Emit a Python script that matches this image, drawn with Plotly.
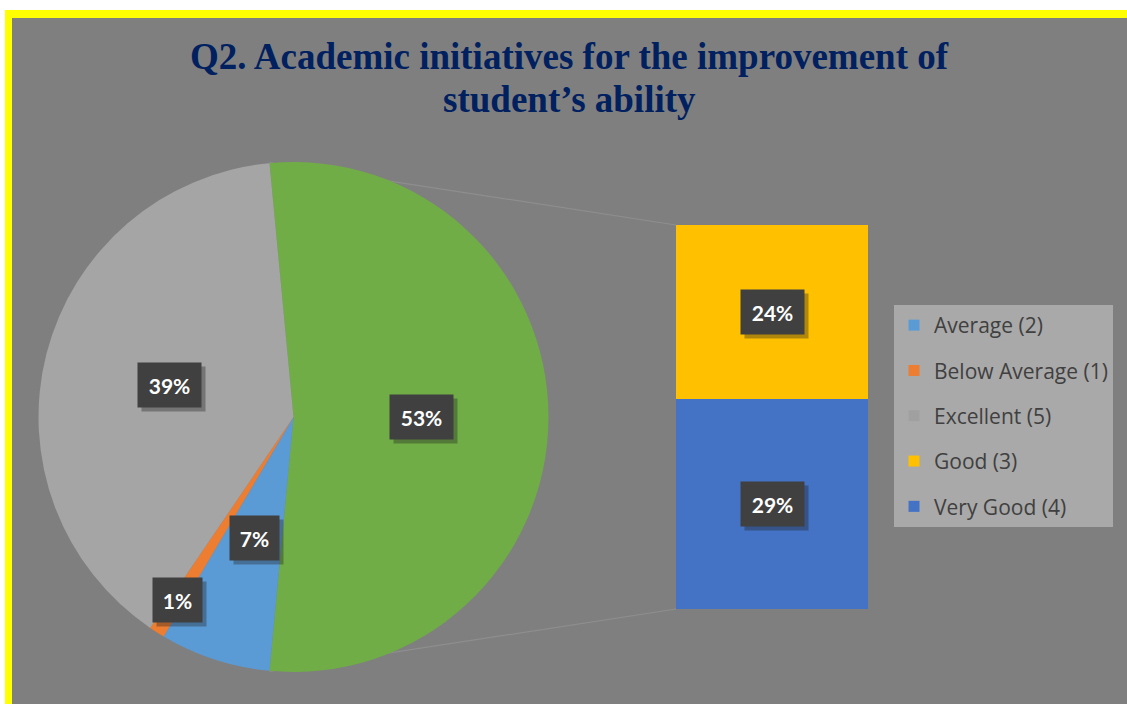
import math
import plotly.graph_objects as go

# ---------------- data ----------------
pie_labels = ["Other", "Average (2)", "Below Average (1)", "Excellent (5)"]
pie_values = [53, 7, 1, 39]
pie_colors = ["#70ad47", "#5b9bd5", "#ed7d31", "#a5a5a5"]

bar_labels = ["Very Good (4)", "Good (3)"]
bar_values = [29, 24]
bar_colors = ["#4472c4", "#ffc000"]

legend_labels = ["Average (2)", "Below Average (1)", "Excellent (5)", "Good (3)", "Very Good (4)"]
legend_colors = ["#5b9bd5", "#ed7d31", "#a0a0a0", "#ffc000", "#4472c4"]

title_lines = ["Q2. Academic initiatives for the improvement of", "student’s ability"]

# ---------------- layout helpers ----------------
W, H = 1127, 704
def px(x):
    return x / W
def py(y):
    return 1 - y / H

PIE_L, PIE_R, PIE_T, PIE_B = 38, 549, 162, 672
cx, cy = (PIE_L + PIE_R) / 2, (PIE_T + PIE_B) / 2
rad = (PIE_R - PIE_L) / 2
BAR_L, BAR_R, BAR_T, BAR_B = 676, 868, 225, 609

total = sum(pie_values)
other_share = pie_values[0] / total
rotation = 90 - other_share * 180

fig = go.Figure()

fig.add_trace(go.Pie(
    labels=pie_labels, values=pie_values,
    marker=dict(colors=pie_colors, line=dict(width=0)),
    sort=False, direction="clockwise", rotation=rotation,
    textinfo="none", hoverinfo="label+percent", showlegend=False,
    domain=dict(x=[px(PIE_L), px(PIE_R)], y=[py(PIE_B), py(PIE_T)]),
))

for lab, val, col in zip(bar_labels, bar_values, bar_colors):
    fig.add_trace(go.Bar(
        x=[0], y=[val], name=lab, marker=dict(color=col, line=dict(width=0)),
        width=1, showlegend=False, xaxis="x", yaxis="y",
    ))

for i, (lab, col) in enumerate(zip(legend_labels, legend_colors)):
    fig.add_trace(go.Scatter(
        x=[None], y=[None], mode="markers", name=lab,
        marker=dict(symbol="square", size=11, color=col),
        legendgroup=f"g{i}", showlegend=True,
    ))

# ---------------- annotations ----------------
annotations = []

title_y = [57, 99]
for line, ty in zip(title_lines, title_y):
    annotations.append(dict(text=f"<b>{line}</b>", x=0.505, y=py(ty), xref="paper", yref="paper",
                            xanchor="center", yanchor="middle", showarrow=False,
                            font=dict(family="Liberation Serif", size=37, color="#002060")))

label_font = dict(family="Lato", size=21, color="white")
def add_label(text, x, y, xref="paper", yref="paper"):
    w = 14 * len(text) + 3
    h = 26
    common = dict(x=x, y=y, xref=xref, yref=yref, showarrow=False,
                  xanchor="center", yanchor="middle", borderpad=9, width=w, height=h)
    annotations.append(dict(text=" ", font=dict(size=21, family="Lato", color="rgba(0,0,0,0)"),
                            bgcolor="rgba(30,30,30,0.35)", xshift=4, yshift=-4, **common))
    annotations.append(dict(text=f"<b>{text}</b>", font=label_font, bgcolor="#404040", **common))

radial = [0.5, 0.5, 0.85, 0.5]
start = rotation
for v, f in zip(pie_values, radial):
    span = v / total * 360
    mid = math.radians(start + span / 2)
    lx = cx + f * rad * math.sin(mid)
    ly = cy - f * rad * math.cos(mid)
    add_label(f"{round(v / total * 100)}%", px(lx), py(ly))
    start += span

cum = 0
for v in bar_values:
    add_label(f"{round(v / total * 100)}%", 0, cum + v / 2, xref="x", yref="y")
    cum += v

# ---------------- shapes ----------------
a0 = math.radians(rotation)
a1 = math.radians(rotation + other_share * 360)
p0 = (cx + rad * math.sin(a0), cy - rad * math.cos(a0))
p1 = (cx + rad * math.sin(a1), cy - rad * math.cos(a1))

shapes = [
    dict(type="rect", xref="paper", yref="paper", x0=px(5), x1=1.02, y0=-0.02, y1=py(10),
         fillcolor="#ffff00", line=dict(width=0), layer="below"),
    dict(type="rect", xref="paper", yref="paper", x0=px(12), x1=1.02, y0=-0.02, y1=py(18),
         fillcolor="#7f7f7f", line=dict(width=0), layer="below"),
    dict(type="line", xref="paper", yref="paper", x0=px(p0[0]), y0=py(p0[1]),
         x1=px(BAR_L), y1=py(BAR_T), line=dict(color="#8e8e8e", width=1.2), layer="below"),
    dict(type="line", xref="paper", yref="paper", x0=px(p1[0]), y0=py(p1[1]),
         x1=px(BAR_L), y1=py(BAR_B), line=dict(color="#8e8e8e", width=1.2), layer="below"),
]

fig.update_layout(
    width=W, height=H,
    margin=dict(l=0, r=0, t=0, b=0),
    paper_bgcolor="white", plot_bgcolor="rgba(0,0,0,0)",
    barmode="stack", bargap=0,
    xaxis=dict(domain=[px(BAR_L), px(BAR_R)], range=[-0.5, 0.5], visible=False, fixedrange=True),
    yaxis=dict(domain=[py(BAR_B), py(BAR_T)], range=[0, sum(bar_values)], visible=False, fixedrange=True),
    legend=dict(x=px(894), y=py(305), xanchor="left", yanchor="top",
                bgcolor="#a9a9a9", font=dict(family="Open Sans", size=21, color="#404040"),
                tracegroupgap=15, itemclick=False, itemwidth=30),
    shapes=shapes, annotations=annotations,
    showlegend=True,
)

fig.write_html("out.html", config={"displayModeBar": False},
               post_script="document.body.style.margin='0';document.body.style.overflow='hidden';")
